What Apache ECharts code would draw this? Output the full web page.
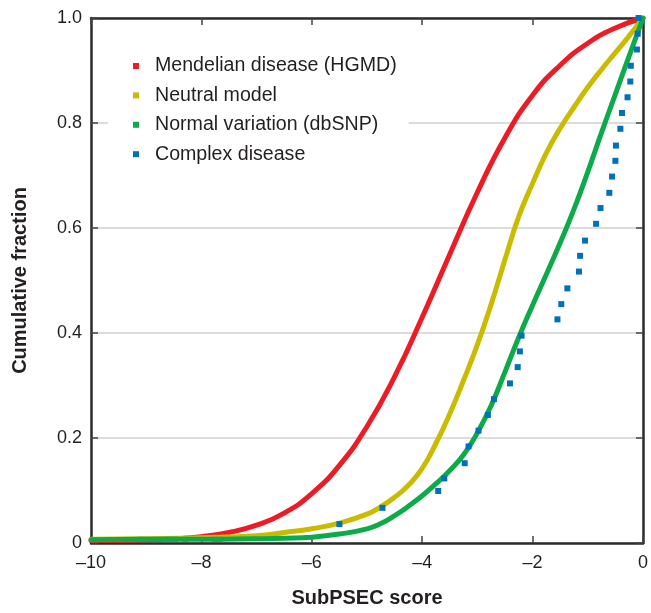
<!DOCTYPE html>
<html>
<head>
<meta charset="utf-8">
<script src="https://cdn.jsdelivr.net/npm/echarts@6/dist/echarts.min.js"></script>
<style>html,body{margin:0;padding:0;background:#fff}#c{width:651px;height:613px}</style>
</head>
<body>
<div id="c"></div>
<script>
// ---- data ----
var xTicks = [-10, -8, -6, -4, -2, 0];
var yTicks = [0, 0.2, 0.4, 0.6, 0.8, 1.0];

var mendelianX = [-10,-9.5,-9,-8.5,-8,-7.5,-7,-6.5,-6,-5.5,-5,-4.5,-4,-3.5,-3,-2.5,-2,-1.5,-1,-0.5,0];
var mendelianY = [0.005,0.005,0.006,0.008,0.012,0.02,0.034,0.057,0.094,0.148,0.222,0.317,0.43,0.55,0.668,0.772,0.853,0.91,0.952,0.981,1.0];

var neutralX = [-10,-9,-8,-7,-6.5,-6,-5.5,-5,-4.75,-4.5,-4.25,-4,-3.75,-3.5,-3.25,-3,-2.75,-2.5,-2.25,-2,-1.75,-1.5,-1.25,-1,-0.75,-0.5,-0.25,0];
var neutralY = [0.007,0.008,0.01,0.014,0.02,0.027,0.038,0.055,0.069,0.087,0.11,0.142,0.19,0.246,0.31,0.378,0.455,0.54,0.622,0.685,0.743,0.79,0.83,0.868,0.902,0.934,0.966,1.0];

var normalX = [-10,-9,-8,-7,-6.5,-6,-5.5,-5,-4.75,-4.5,-4.25,-4,-3.75,-3.5,-3.25,-3,-2.75,-2.5,-2.25,-2,-1.75,-1.5,-1.25,-1,-0.75,-0.5,-0.25,0];
var normalY = [0.006,0.007,0.007,0.008,0.009,0.011,0.017,0.027,0.037,0.052,0.07,0.09,0.113,0.138,0.168,0.21,0.262,0.326,0.392,0.453,0.512,0.572,0.636,0.707,0.782,0.855,0.928,1.0];

// small green marks visible along the baseline
var normalMarkX = [-9.1,-8.6,-8.48,-8.29,-7.76,-7.67];
var normalMarkY = [0.007,0.007,0.007,0.007,0.007,0.007];

var complexX = [-5.50,-4.72,-3.71,-3.60,-3.23,-3.16,-2.98,-2.81,-2.70,-2.41,-2.27,-2.23,-2.20,-1.55,-1.48,-1.37,-1.16,-1.14,-1.05,-0.85,-0.77,-0.61,-0.56,-0.50,-0.49,-0.41,-0.38,-0.28,-0.23,-0.22,-0.11,-0.096,-0.08];
var complexY = [0.036,0.067,0.099,0.123,0.152,0.184,0.214,0.244,0.274,0.304,0.335,0.365,0.395,0.426,0.455,0.485,0.517,0.547,0.576,0.608,0.638,0.667,0.698,0.728,0.757,0.789,0.819,0.849,0.879,0.909,0.94,0.97,1.0];

var seriesNames = ['Mendelian disease (HGMD)', 'Neutral model', 'Normal variation (dbSNP)', 'Complex disease'];
var colors = ['#ED1C24', '#CABB00', '#0DAA4A', '#0070BA'];

function pairs(xs, ys) { return xs.map(function (x, i) { return [x, ys[i]]; }); }

var FONT = '"Liberation Sans", Arial, Helvetica, sans-serif';
var INK = '#231F20';
var FRAME = '#2b2b2b';

var chart = echarts.init(document.getElementById('c'), null, { renderer: 'canvas' });

function fmtX(v) { return v < 0 ? '\u2013' + Math.abs(v) : String(v); }
function fmtY(v) { return v === 0 ? '0' : v.toFixed(1); }

function lineSeries(i, xs, ys, z) {
  return {
    name: seriesNames[i], type: 'line', data: pairs(xs, ys),
    smooth: 0.5, showSymbol: false, symbol: 'none',
    lineStyle: { color: colors[i], width: 5, cap: 'round', join: 'round' },
    itemStyle: { color: colors[i] }, z: z
  };
}

var option = {
  animation: false,
  backgroundColor: '#fff',
  grid: { left: 91, right: 5, top: 18, bottom: 65, containLabel: false },
  legend: {
    data: seriesNames,
    orient: 'vertical',
    left: 108,
    top: 51,
    padding: [5, 12, 5, 25],
    backgroundColor: '#fff',
    icon: 'rect',
    itemWidth: 6,
    itemHeight: 6,
    itemGap: 9.4,
    textStyle: { fontFamily: FONT, fontSize: 19.6, color: INK, lineHeight: 20, padding: [0, 0, 0, 11] }
  },
  xAxis: [{
    type: 'value', min: xTicks[0], max: xTicks[xTicks.length - 1], interval: 2,
    position: 'bottom',
    name: 'SubPSEC score', nameLocation: 'middle', nameGap: 45,
    nameTextStyle: { fontFamily: FONT, fontSize: 20, fontWeight: 'bold', color: INK },
    axisLine: { show: true, onZero: false, lineStyle: { color: FRAME, width: 2.5 } },
    axisTick: { show: true, inside: true, length: 7, lineStyle: { color: '#444', width: 1.5 } },
    axisLabel: { fontFamily: FONT, fontSize: 18, color: INK, margin: 11, formatter: fmtX },
    splitLine: { show: false }
  }, {
    type: 'value', min: xTicks[0], max: xTicks[xTicks.length - 1], interval: 2,
    position: 'top',
    axisLine: { show: true, onZero: false, lineStyle: { color: FRAME, width: 2.5 } },
    axisTick: { show: true, inside: true, length: 7, lineStyle: { color: '#444', width: 1.5 } },
    axisLabel: { show: false },
    splitLine: { show: false }
  }],
  yAxis: [{
    type: 'value', min: yTicks[0], max: yTicks[yTicks.length - 1], interval: 0.2,
    position: 'left',
    name: 'Cumulative fraction', nameLocation: 'middle', nameGap: 61, nameRotate: 90,
    nameTextStyle: { fontFamily: FONT, fontSize: 20, fontWeight: 'bold', color: INK },
    axisLine: { show: true, onZero: false, lineStyle: { color: FRAME, width: 2.5 } },
    axisTick: { show: true, inside: true, length: 7, lineStyle: { color: '#444', width: 1.5 } },
    axisLabel: { fontFamily: FONT, fontSize: 18, color: INK, margin: 9, formatter: fmtY },
    splitLine: { show: true, lineStyle: { color: '#DCDCDC', width: 2 } }
  }, {
    type: 'value', min: yTicks[0], max: yTicks[yTicks.length - 1], interval: 0.2,
    position: 'right',
    axisLine: { show: true, onZero: false, lineStyle: { color: FRAME, width: 2.5 } },
    axisTick: { show: true, inside: true, length: 7, lineStyle: { color: '#444', width: 1.5 } },
    axisLabel: { show: false },
    splitLine: { show: false }
  }],
  series: [
    lineSeries(0, mendelianX, mendelianY, 2),
    lineSeries(1, neutralX, neutralY, 3),
    lineSeries(2, normalX, normalY, 4),
    {
      name: seriesNames[2], type: 'scatter', data: pairs(normalMarkX, normalMarkY),
      symbol: 'rect', symbolSize: [6, 5], itemStyle: { color: colors[2], opacity: 1 }, z: 5
    },
    {
      name: seriesNames[3], type: 'scatter', data: pairs(complexX, complexY),
      symbol: 'rect', symbolSize: 6, itemStyle: { color: colors[3], opacity: 1 }, z: 6, clip: false
    }
  ]
};
chart.setOption(option);
</script>
</body>
</html>
